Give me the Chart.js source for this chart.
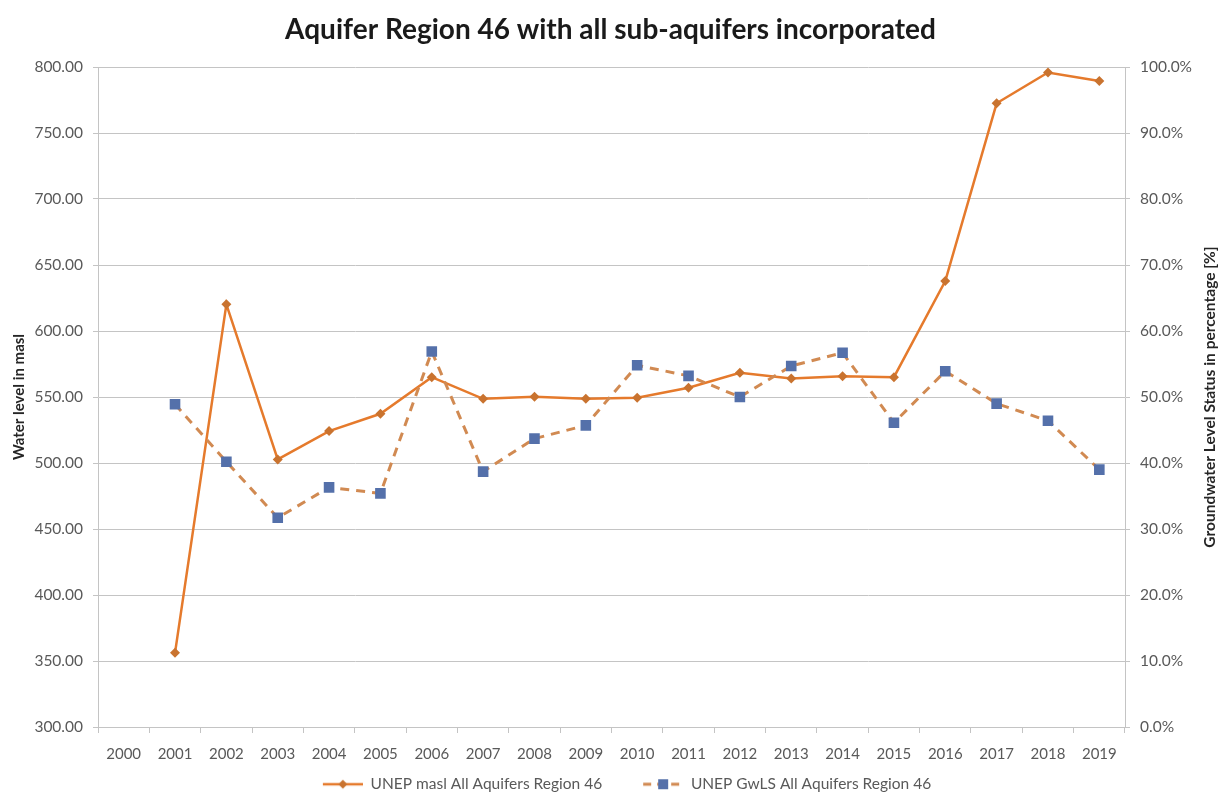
<!DOCTYPE html>
<html>
<head>
<meta charset="utf-8">
<script src="https://cdn.jsdelivr.net/npm/chart.js@4/dist/chart.umd.min.js"></script>
<style>
  html, body { margin: 0; padding: 0; background: #ffffff; }
  #wrap { width: 1221px; height: 795px; overflow: hidden; }
</style>
</head>
<body>
<div id="wrap"><canvas id="chart" width="1221" height="795"></canvas></div>
<script>
// Years on the category axis
const years = ['2000', '2001', '2002', '2003', '2004', '2005', '2006', '2007', '2008', '2009',
               '2010', '2011', '2012', '2013', '2014', '2015', '2016', '2017', '2018', '2019'];

// Water level in metres above sea level (left axis)
const maslValues = [null, 356.2, 620.2, 502.7, 524.2, 537.3, 565.0, 548.6, 550.2, 548.6,
                    549.5, 557.0, 568.4, 564.0, 565.8, 565.0, 637.8, 772.5, 795.8, 789.4];

// Groundwater level status in percent (right axis)
const gwlsPercent = [null, 48.9, 40.2, 31.7, 36.3, 35.4, 56.9, 38.7, 43.7, 45.7,
                     54.8, 53.2, 50.0, 54.7, 56.7, 46.1, 53.9, 49.0, 46.4, 39.0];

const seriesNames = ['UNEP masl All Aquifers Region 46', 'UNEP GwLS All Aquifers Region 46'];
const chartTitle = 'Aquifer Region 46 with all sub-aquifers incorporated';
const leftAxisTitle = 'Water level in masl';
const rightAxisTitle = 'Groundwater Level Status in percentage [%]';

const FONT = 'Lato, "Liberation Sans", sans-serif';
const ORANGE = '#E57A2C';
const ORANGE_MARK = '#C9732F';
const DASH_COLOR = '#D18A52';
const BLUE = '#5470AA';
const GRID = '#C4C4C4';
const TICK_TEXT = '#595959';

// Small legend swatches: a line with its marker in the middle
function makeSwatch(kind) {
  const blank = 33, lineW = 40, h = 14;
  const cv = document.createElement('canvas');
  cv.width = blank + lineW; cv.height = h;
  const g = cv.getContext('2d');
  const cy = h / 2, cx = blank + lineW / 2;
  if (kind === 'solid') {
    g.strokeStyle = ORANGE; g.lineWidth = 2.5;
    g.beginPath(); g.moveTo(blank, cy); g.lineTo(blank + lineW, cy); g.stroke();
    g.fillStyle = ORANGE_MARK;
    g.beginPath(); g.moveTo(cx, cy - 4.5); g.lineTo(cx + 4.5, cy); g.lineTo(cx, cy + 4.5); g.lineTo(cx - 4.5, cy); g.closePath(); g.fill();
  } else {
    g.strokeStyle = DASH_COLOR; g.lineWidth = 3;
    g.setLineDash([8, 6]);
    g.beginPath(); g.moveTo(blank, cy); g.lineTo(blank + lineW, cy); g.stroke();
    g.fillStyle = BLUE;
    g.fillRect(cx - 5, cy - 5, 10, 10);
  }
  return cv;
}
const swatches = [makeSwatch('solid'), makeSwatch('dashed')];

// Right axis title reads bottom-to-top, drawn after the chart
const rightTitlePlugin = {
  id: 'rightTitle',
  afterDraw(chart) {
    const { ctx, chartArea } = chart;
    ctx.save();
    ctx.translate(1210, (chartArea.top + chartArea.bottom) / 2);
    ctx.rotate(-Math.PI / 2);
    ctx.font = 'bold 15.5px ' + FONT;
    ctx.fillStyle = '#262626';
    ctx.textAlign = 'center';
    ctx.textBaseline = 'middle';
    ctx.fillText(rightAxisTitle, 0, 0);
    ctx.restore();
  }
};

new Chart(document.getElementById('chart'), {
  type: 'line',
  data: {
    labels: years,
    datasets: [
      {
        label: seriesNames[0],
        data: maslValues,
        yAxisID: 'yLeft',
        borderColor: ORANGE,
        borderWidth: 2.5,
        pointStyle: 'rectRot',
        pointRadius: 5,
        pointBackgroundColor: ORANGE_MARK,
        pointBorderColor: ORANGE_MARK,
        pointBorderWidth: 0,
        tension: 0,
        order: 2
      },
      {
        label: seriesNames[1],
        data: gwlsPercent,
        yAxisID: 'yRight',
        borderColor: DASH_COLOR,
        borderWidth: 3,
        borderDash: [9, 7],
        pointStyle: 'rect',
        pointRadius: 7.5,
        pointBackgroundColor: BLUE,
        pointBorderColor: BLUE,
        pointBorderWidth: 0,
        tension: 0,
        order: 1
      }
    ]
  },
  options: {
    responsive: false,
    animation: false,
    layout: { padding: { top: 0, left: 0, right: 0, bottom: -7 } },
    plugins: {
      tooltip: { enabled: false },
      title: {
        display: true,
        text: chartTitle,
        color: '#1a1a1a',
        font: { family: FONT, size: 28, weight: 'bold' },
        padding: { top: 13, bottom: 20.4 }
      },
      legend: {
        position: 'bottom',
        labels: {
          usePointStyle: true,
          pointStyleWidth: 73,
          padding: 8,
          color: TICK_TEXT,
          font: { family: FONT, size: 15.5 },
          generateLabels: (chart) => chart.data.datasets.map((ds, i) => ({
            text: ds.label,
            pointStyle: swatches[i],
            fontColor: TICK_TEXT,
            datasetIndex: i,
            hidden: false,
            lineWidth: 0,
            strokeStyle: 'transparent',
            fillStyle: 'transparent'
          }))
        }
      }
    },
    scales: {
      x: {
        type: 'category',
        offset: true,
        grid: {
          offset: true,
          drawOnChartArea: false,
          drawTicks: true,
          tickLength: 6,
          color: GRID
        },
        border: { color: GRID, width: 1 },
        ticks: {
          color: TICK_TEXT,
          font: { family: FONT, size: 15 },
          padding: 12,
          maxRotation: 0,
          autoSkip: false
        },
        afterFit(scale) { scale.height = 41.5; }
      },
      yLeft: {
        type: 'linear',
        position: 'left',
        min: 300,
        max: 800,
        ticks: {
          stepSize: 50,
          color: TICK_TEXT,
          font: { family: FONT, size: 15.5 },
          padding: 10,
          callback: (v) => Number(v).toFixed(2)
        },
        grid: { color: GRID, tickLength: 5, lineWidth: 1 },
        border: { color: GRID, width: 1 },
        title: {
          display: true,
          text: leftAxisTitle,
          color: '#262626',
          font: { family: FONT, size: 15, weight: 'bold' },
          padding: { top: 10, bottom: 0 }
        },
        afterFit(scale) { scale.width = 98; }
      },
      yRight: {
        type: 'linear',
        position: 'right',
        min: 0,
        max: 100,
        ticks: {
          stepSize: 10,
          color: TICK_TEXT,
          font: { family: FONT, size: 15.5 },
          padding: 10,
          callback: (v) => Number(v).toFixed(1) + '%'
        },
        grid: { drawOnChartArea: false, color: GRID, tickLength: 5 },
        border: { color: GRID, width: 1 },
        afterFit(scale) { scale.width = 96; }
      }
    }
  },
  plugins: [rightTitlePlugin]
});
</script>
</body>
</html>
